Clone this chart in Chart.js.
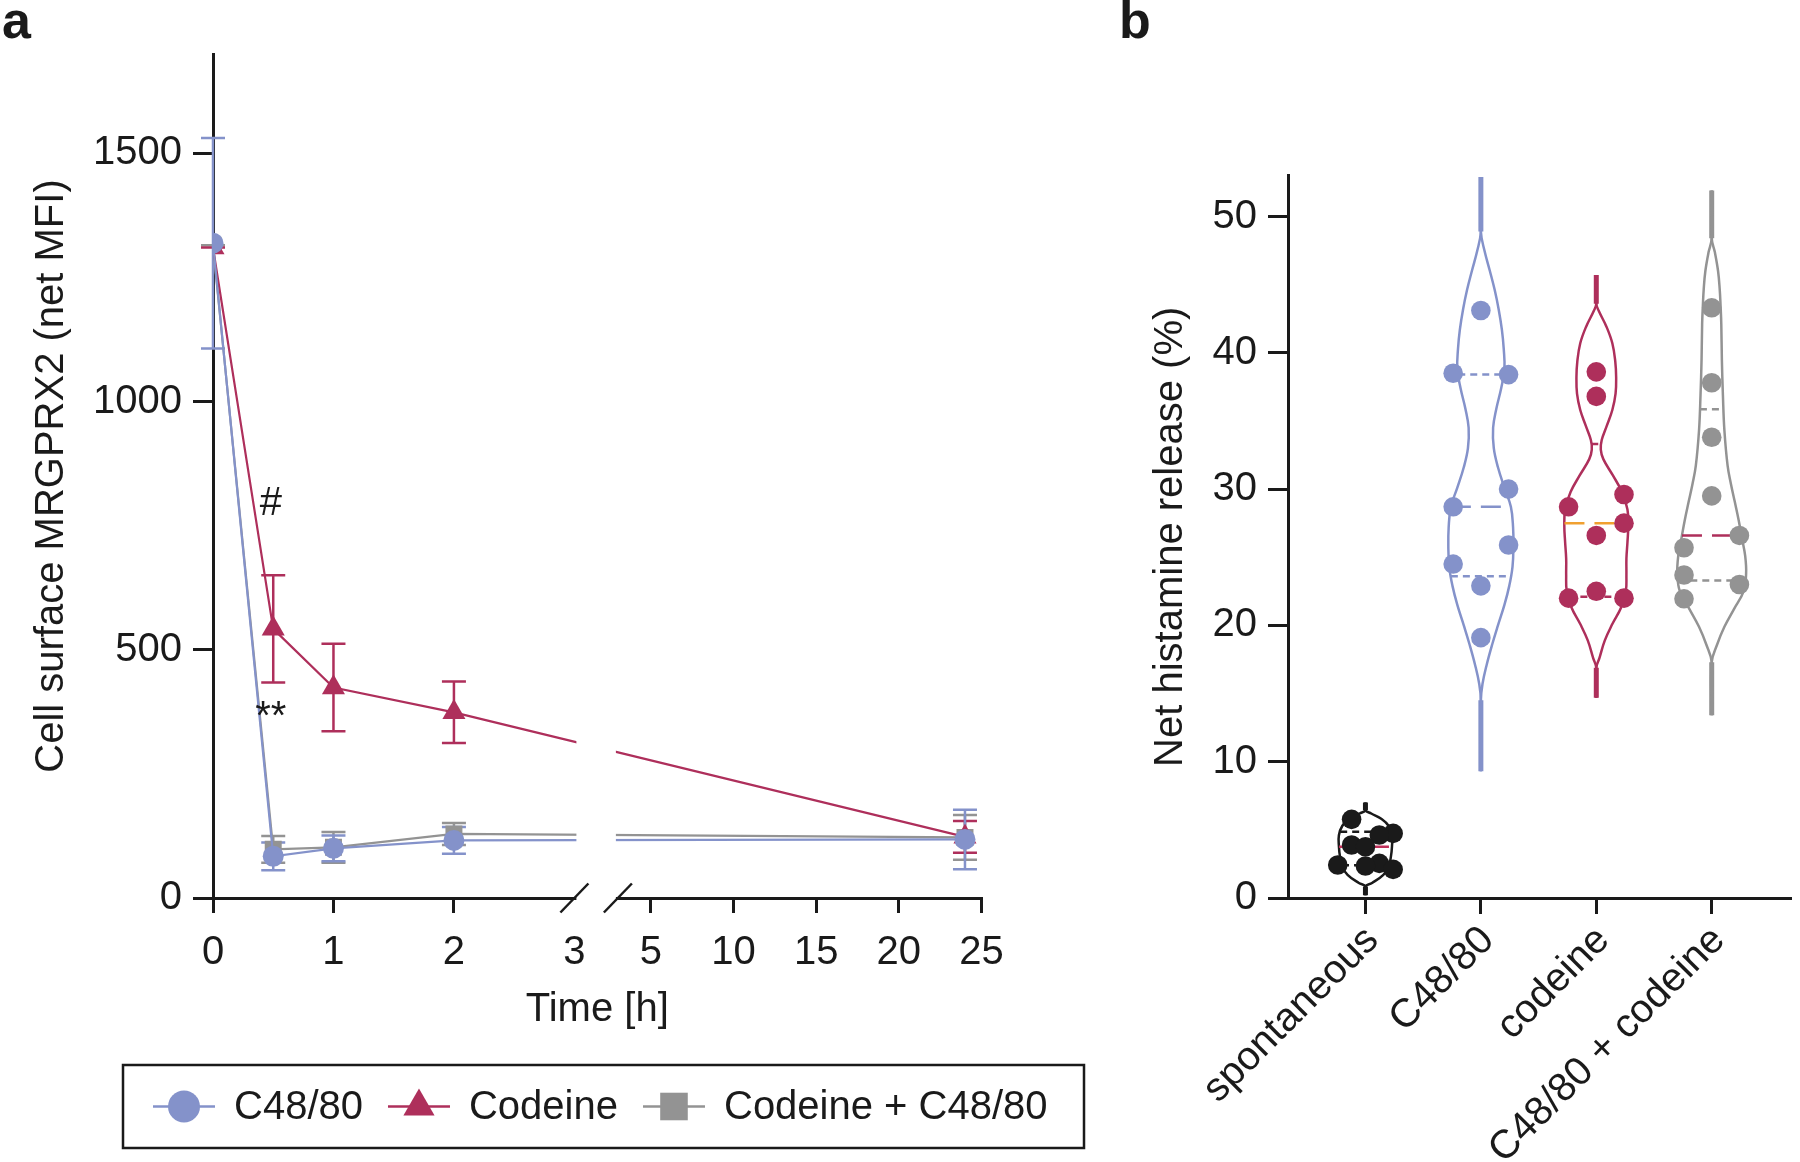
<!DOCTYPE html>
<html>
<head>
<meta charset="utf-8">
<script src="https://cdn.jsdelivr.net/npm/chart.js@4.4.1/dist/chart.umd.min.js"></script>
<style>
  html, body { margin: 0; padding: 0; background: #fff; overflow: hidden; }
  body { width: 1800px; height: 1162px; position: relative; }
  canvas { position: absolute; top: 0; }
  #panelA { left: 0; }
  #panelB { left: 1100px; }
</style>
</head>
<body>
<canvas id="panelA" width="1100" height="1162"></canvas>
<canvas id="panelB" width="700" height="1162"></canvas>
<script>
// ---- panel a: surface MRGPRX2 over time (mean and SD) ----
const hours = [0, 0.5, 1, 2, 24];
const c4880Mean = [1319, 84, 100, 116, 118];
const c4880Sd = [212, 28, 26, 27, 60];
const codeineMean = [1310, 542, 424, 374, 123];
const codeineSd = [0, 108, 88, 62, 32];
const comboMean = [1315, 98, 102, 129, 122];
const comboSd = [0, 27, 31, 22, 45];
const xTickHours = [0, 1, 2, 3, 5, 10, 15, 20, 25];
const yTicksA = [0, 500, 1000, 1500];
const markTexts = ['#', '**'];
const markHours = [0.48, 0.48];
const markValues = [794, 362];

// ---- panel b: net histamine release (%) ----
const groups = ['spontaneous', 'C48/80', 'codeine', 'C48/80 + codeine'];
const spontValues = [5.77, 4.74, 4.62, 3.89, 3.76, 2.54, 2.42, 2.35, 2.10];
const spontSlots = [-1, 2, 1, -1, 0, 1, -2, 0, 2];
const c4880Values = [43.1, 38.5, 38.4, 30.0, 28.7, 25.9, 24.5, 22.9, 19.1];
const c4880Slots = [0, -2, 2, 2, -2, 2, -2, 0, 0];
const codeineValues = [38.6, 36.8, 29.6, 28.7, 27.5, 26.6, 22.5, 22.0, 22.0];
const codeineSlots = [0, 0, 2, -2, 2, 0, 0, -2, 2];
const comboValues = [43.3, 37.8, 33.8, 29.5, 26.6, 25.7, 23.7, 23.0, 21.95];
const comboSlots = [0, 0, 0, 0, 2, -2, -2, 2, -2];

// quartile lines: q1, median, q3
const spontQuart = [2.4, 3.76, 4.86];
const c4880Quart = [23.6, 28.7, 38.4];
const codeineQuart = [22.1, 27.5, 33.3];
const comboQuart = [23.3, 26.6, 35.85];

// violin outlines: level and half width (x units)
const spontViolinY = [7.0, 6.45, 6.2, 5.8, 5.3, 4.6, 3.8, 3.0, 2.3, 1.7, 1.1, 0.85, 0.2];
const spontViolinHalf = [0, 0, 0.05, 0.14, 0.2, 0.23, 0.23, 0.22, 0.2, 0.155, 0.057, 0, 0];
const c4880ViolinY = [52.9, 48.9, 47.5, 46.0, 44.6, 43.2, 41.7, 40.3, 38.8, 37.4, 35.9, 34.5, 33.0, 31.6, 30.1, 28.7, 27.2, 25.8, 24.3, 22.9, 21.5, 20.0, 18.6, 17.1, 15.7, 14.5, 9.3];
const c4880ViolinHalf = [0, 0, 0.031, 0.078, 0.12, 0.154, 0.182, 0.198, 0.204, 0.176, 0.134, 0.106, 0.112, 0.148, 0.204, 0.26, 0.279, 0.282, 0.274, 0.246, 0.204, 0.148, 0.098, 0.05, 0.014, 0, 0];
const codeineViolinY = [45.7, 43.6, 43.1, 41.9, 40.7, 39.4, 38.2, 37.0, 35.8, 34.6, 33.6, 32.9, 32.2, 31.0, 29.8, 28.5, 27.3, 26.1, 24.9, 23.7, 22.5, 21.3, 20.1, 18.9, 17.6, 16.9, 14.7];
const codeineViolinHalf = [0, 0, 0.02, 0.089, 0.139, 0.164, 0.172, 0.167, 0.139, 0.089, 0.047, 0.039, 0.061, 0.144, 0.222, 0.27, 0.277, 0.27, 0.261, 0.261, 0.256, 0.214, 0.139, 0.074, 0.027, 0, 0];
const comboViolinY = [51.9, 48.4, 47.35, 46.0, 44.7, 43.4, 42.1, 39.5, 36.9, 34.3, 31.7, 30.4, 29.1, 27.7, 26.4, 25.1, 23.8, 22.5, 21.2, 19.9, 18.6, 17.3, 13.4];
const comboViolinHalf = [0, 0, 0.028, 0.055, 0.069, 0.077, 0.083, 0.088, 0.097, 0.11, 0.138, 0.166, 0.199, 0.234, 0.262, 0.29, 0.298, 0.276, 0.193, 0.11, 0.047, 0, 0];

// ---- styles ----
const INK = '#1a1a1a';
const BLUE = '#8492ca';
const RED = '#ae2f5b';
const GRAY = '#939393';
const ORANGE = '#f0a030';
const FONT = "'Liberation Sans', Arial, Helvetica, sans-serif";

Chart.defaults.font.family = FONT;
Chart.defaults.font.size = 40;
Chart.defaults.color = INK;
Chart.defaults.animation = false;
Chart.defaults.plugins.legend.display = false;
Chart.defaults.plugins.tooltip.enabled = false;

// broken time axis: 0-3 h on a wide scale, then 3-25 h compressed
const BREAK_AT = 3;
const BREAK_GAP = 0.361;
const LATE_SCALE = 0.1372;
function axisPos(h) {
    return h <= BREAK_AT ? h : BREAK_AT + BREAK_GAP + (h - BREAK_AT) * LATE_SCALE;
}

function series(label, means, sds, color, pointStyle, radius, legendRadius) {
    return {
        label: label,
        data: hours.map((h, i) => ({x: axisPos(h), y: means[i]})),
        sd: sds,
        showLine: true,
        borderColor: color,
        backgroundColor: color,
        borderWidth: 2.2,
        pointStyle: pointStyle,
        pointRadius: radius,
        pointBorderWidth: 0,
        legendRadius: legendRadius,
    };
}

const errorBars = {
    id: 'errorBars',
    beforeDatasetsDraw(chart) {
        const ctx = chart.ctx;
        const y = chart.scales.y;
        for (let di = chart.data.datasets.length - 1; di >= 0; di--) {
            const ds = chart.data.datasets[di];
            const meta = chart.getDatasetMeta(di);
            ctx.save();
            ctx.strokeStyle = ds.borderColor;
            ctx.lineWidth = 2.5;
            meta.data.forEach((pt, i) => {
                const top = y.getPixelForValue(ds.data[i].y + ds.sd[i]);
                const bot = y.getPixelForValue(ds.data[i].y - ds.sd[i]);
                ctx.beginPath();
                ctx.moveTo(pt.x, top);
                ctx.lineTo(pt.x, bot);
                ctx.moveTo(pt.x - 12, top);
                ctx.lineTo(pt.x + 12, top);
                ctx.moveTo(pt.x - 12, bot);
                ctx.lineTo(pt.x + 12, bot);
                ctx.stroke();
            });
            ctx.restore();
        }
    }
};

const axisBreak = {
    id: 'axisBreak',
    afterDraw(chart) {
        const ctx = chart.ctx;
        const x = chart.scales.x;
        const area = chart.chartArea;
        const x1 = x.getPixelForValue(BREAK_AT);
        const x2 = x.getPixelForValue(BREAK_AT + BREAK_GAP);
        ctx.save();
        ctx.fillStyle = '#fff';
        ctx.fillRect(x1 + 2, area.top, x2 - x1 - 4, area.bottom - area.top + 3);
        ctx.strokeStyle = INK;
        ctx.lineWidth = 2.5;
        [x1, x2].forEach(cx => {
            ctx.beginPath();
            ctx.moveTo(cx - 14, area.bottom + 14.5);
            ctx.lineTo(cx + 14, area.bottom - 14.5);
            ctx.stroke();
        });
        // significance marks
        ctx.fillStyle = INK;
        ctx.font = '40px ' + FONT;
        ctx.textAlign = 'center';
        ctx.textBaseline = 'middle';
        markTexts.forEach((t, i) => {
            ctx.fillText(t, x.getPixelForValue(axisPos(markHours[i])), chart.scales.y.getPixelForValue(markValues[i]));
        });
        ctx.restore();
    }
};

const boxedLegend = {
    id: 'boxedLegend',
    afterDraw(chart) {
        const ctx = chart.ctx;
        const left = 123, top = 1065, right = 1084, bottom = 1148;
        const midY = (top + bottom) / 2;
        ctx.save();
        ctx.strokeStyle = INK;
        ctx.lineWidth = 2.5;
        ctx.strokeRect(left, top, right - left, bottom - top);
        ctx.font = '40px ' + FONT;
        ctx.textBaseline = 'middle';
        ctx.textAlign = 'left';
        let cx = 153;
        chart.data.datasets.forEach(ds => {
            ctx.strokeStyle = ds.borderColor;
            ctx.lineWidth = 2.5;
            ctx.beginPath();
            ctx.moveTo(cx, midY);
            ctx.lineTo(cx + 62, midY);
            ctx.stroke();
            ctx.fillStyle = ds.backgroundColor;
            Chart.helpers.drawPoint(ctx, {pointStyle: ds.pointStyle, radius: ds.legendRadius, rotation: 0, borderWidth: 0}, cx + 31, midY);
            ctx.fillStyle = INK;
            ctx.fillText(ds.label, cx + 81, midY + 1);
            cx += 81 + ctx.measureText(ds.label).width + 25;
        });
        ctx.restore();
    }
};

function panelLetter(letter, x, y) {
    return {
        id: 'letter' + letter,
        afterDraw(chart) {
            const ctx = chart.ctx;
            ctx.save();
            ctx.fillStyle = INK;
            ctx.font = 'bold 52px ' + FONT;
            ctx.textBaseline = 'alphabetic';
            ctx.fillText(letter, x, y);
            ctx.restore();
        }
    };
}

function axisLines(tickLength) {
    return {
        border: {display: true, color: INK, width: 3},
        grid: {display: true, drawOnChartArea: false, drawTicks: true, tickLength: tickLength, lineWidth: 3, color: INK},
    };
}

new Chart(document.getElementById('panelA'), {
    type: 'scatter',
    data: {
        datasets: [
            series('C48/80', c4880Mean, c4880Sd, BLUE, 'circle', 10.5, 16),
            series('Codeine', codeineMean, codeineSd, RED, 'triangle', 13.3, 18),
            series('Codeine + C48/80', comboMean, comboSd, GRAY, 'rect', 12, 19.5),
        ]
    },
    options: {
        responsive: false,
        layout: {padding: {top: 54, right: 118.5, bottom: 128, left: 0}},
        scales: {
            x: {
                type: 'linear',
                min: 0,
                max: axisPos(25),
                ...axisLines(15),
                grid: {
                    display: true, drawOnChartArea: false, drawTicks: true, tickLength: 15, lineWidth: 3,
                    color: ctx => xTickHours[ctx.index] === BREAK_AT ? 'rgba(0,0,0,0)' : INK,
                },
                afterBuildTicks: s => { s.ticks = xTickHours.map(h => ({value: axisPos(h)})); },
                ticks: {autoSkip: false, maxRotation: 0, minRotation: 0, padding: 16, callback: (v, i) => String(xTickHours[i])},
                title: {display: true, text: 'Time [h]', padding: 0},
                afterFit: s => { s.height = 136; s.paddingLeft = 0; s.paddingRight = 0; },
            },
            y: {
                min: 0,
                max: 1700,
                ...axisLines(20),
                afterBuildTicks: s => { s.ticks = yTicksA.map(v => ({value: v})); },
                ticks: {padding: 11, callback: v => String(v)},
                title: {display: true, text: 'Cell surface MRGPRX2 (net MFI)', padding: {top: 28, bottom: 0}},
                afterFit: s => { s.width = 213; s.paddingTop = 0; s.paddingBottom = 0; },
            }
        }
    },
    plugins: [errorBars, axisBreak, boxedLegend, panelLetter('a', 2, 38)]
});

// ---- panel b: violins built from the outline arrays ----
const SLOT = 0.12;

function halfAt(ys, halves, level) {
    for (let k = 0; k < ys.length - 1; k++) {
        if (level <= ys[k] && level >= ys[k + 1]) {
            const f = (ys[k] - level) / (ys[k] - ys[k + 1]);
            return halves[k] + f * (halves[k + 1] - halves[k]);
        }
    }
    return 0;
}

function violin(i, ys, halves, values, slots, quart, color, medianColor) {
    const sets = [];
    const n = ys.length;
    const line = {showLine: true, pointRadius: 0, borderColor: color, borderWidth: 2.5};
    [-1, 1].forEach(side => {
        sets.push({...line, tension: 0.4, order: 3, data: ys.map((y, k) => ({x: i + side * halves[k], y: y}))});
    });
    sets.push({...line, borderWidth: 5, order: 3, data: [{x: i, y: ys[0]}, {x: i, y: ys[1]}]});
    sets.push({...line, borderWidth: 5, order: 3, data: [{x: i, y: ys[n - 2]}, {x: i, y: ys[n - 1]}]});
    quart.forEach((q, k) => {
        const hw = halfAt(ys, halves, q);
        sets.push({
            ...line,
            order: 2,
            borderColor: k === 1 ? medianColor : color,
            borderDash: k === 1 ? [20, 10] : [7, 5],
            data: [{x: i - hw, y: q}, {x: i + hw, y: q}],
        });
    });
    sets.push({
        order: 1,
        showLine: false,
        pointRadius: 9.8,
        pointBorderWidth: 0,
        backgroundColor: color,
        data: values.map((v, k) => ({x: i + slots[k] * SLOT, y: v})),
    });
    return sets;
}

new Chart(document.getElementById('panelB'), {
    type: 'scatter',
    data: {
        datasets: [
            ...violin(0, spontViolinY, spontViolinHalf, spontValues, spontSlots, spontQuart, INK, '#c0305a'),
            ...violin(1, c4880ViolinY, c4880ViolinHalf, c4880Values, c4880Slots, c4880Quart, BLUE, BLUE),
            ...violin(2, codeineViolinY, codeineViolinHalf, codeineValues, codeineSlots, codeineQuart, RED, ORANGE),
            ...violin(3, comboViolinY, comboViolinHalf, comboValues, comboSlots, comboQuart, GRAY, RED),
        ]
    },
    options: {
        responsive: false,
        layout: {padding: {top: 175.6, right: 0, bottom: 0, left: 0}},
        scales: {
            x: {
                type: 'linear',
                min: -0.671,
                max: 3.68,
                ...axisLines(16),
                afterBuildTicks: s => { s.ticks = groups.map((g, i) => ({value: i})); },
                ticks: {autoSkip: false, minRotation: 45, maxRotation: 45, padding: 3, labelOffset: 7, callback: (v, i) => groups[i]},
                afterFit: s => { s.height = 264; s.paddingLeft = 0; s.paddingRight = 0; },
            },
            y: {
                min: 0,
                max: 53,
                ...axisLines(20),
                afterBuildTicks: s => { s.ticks = [0, 10, 20, 30, 40, 50].map(v => ({value: v})); },
                ticks: {padding: 11},
                title: {display: true, text: 'Net histamine release (%)', padding: {top: 47, bottom: 0}},
                afterFit: s => { s.width = 188; s.paddingTop = 0; s.paddingBottom = 0; },
            }
        }
    },
    plugins: [panelLetter('b', 19, 38)]
});
</script>
</body>
</html>
